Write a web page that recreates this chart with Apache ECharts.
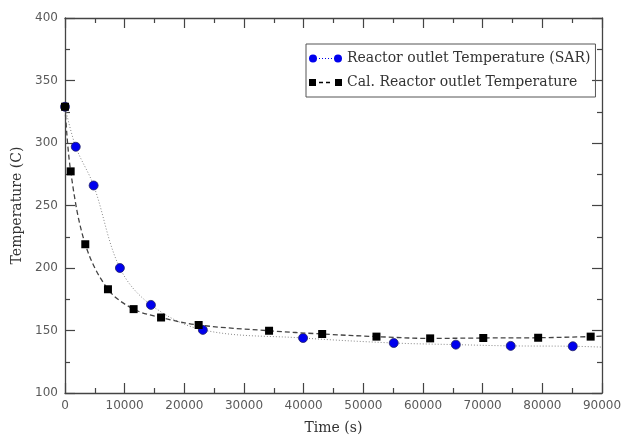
<!DOCTYPE html>
<html>
<head>
<meta charset="utf-8">
<script src="https://cdn.jsdelivr.net/npm/echarts@6/dist/echarts.min.js"></script>
<style>html,body{margin:0;padding:0;background:#fff}#c{width:637px;height:440px}</style>
</head>
<body>
<div id="c"></div>
<script>
// Reactor outlet Temperature (SAR)
var sarTime = [0, 1800, 4800, 9200, 14400, 23100, 39900, 55100, 65500, 74700, 85100];
var sarTemp = [329, 297, 266, 200, 170.5, 150.5, 144, 140, 138.7, 137.7, 137.4];
var sarTail = [90000, 136.7];
// Cal. Reactor outlet Temperature
var calTime = [0, 950, 3400, 7200, 11500, 16100, 22400, 34200, 43100, 52200, 61200, 70100, 79300, 88100];
var calTemp = [329, 277.3, 219, 183, 167.1, 160.4, 154.4, 149.8, 147.2, 145.1, 143.7, 144, 144.2, 145.1];
var calTail = [90000, 145.5];

var xTicks = {min: 0, max: 90000, interval: 10000};
var yTicks = {min: 100, max: 400, interval: 50};

function pairs(xs, ys, tail) {
  var out = xs.map(function (x, i) { return [x, ys[i]]; });
  out.push({value: tail, symbol: 'none'});
  return out;
}

var axisCol = '#444';
var sansFont = '"DejaVu Sans", sans-serif';
var serifFont = '"DejaVu Serif", serif';

function baseAxis(extra) {
  var a = {
    type: 'value',
    axisLine: {show: true, onZero: false, lineStyle: {color: axisCol, width: 1.3}},
    axisTick: {show: true, inside: true, length: 10, lineStyle: {color: axisCol, width: 1.2}},
    minorTick: {show: true, splitNumber: 2, length: 5, lineStyle: {color: axisCol, width: 1.2}},
    splitLine: {show: false},
    axisLabel: {show: false}
  };
  for (var k in extra) a[k] = extra[k];
  return a;
}

var labelStyle = {color: '#5a5a5a', fontFamily: sansFont, fontSize: 12, margin: 7,
  formatter: function (v) { return String(v); }};

var chart = echarts.init(document.getElementById('c'), null, {renderer: 'canvas'});

var circIcon = 'path://M0,4a4,4 0 1,0 8,0a4,4 0 1,0 -8,0z M10,3.5h1v1h-1z M13,3.5h1v1h-1z M16,3.5h1v1h-1z M19,3.5h1v1h-1z M22,3.5h1v1h-1z M25,4a4,4 0 1,0 8,0a4,4 0 1,0 -8,0z';
var sqIcon = 'path://M0,0.5h7v7h-7z M10,3.3h4v1.4h-4z M17,3.3h4v1.4h-4z M26,0.5h7v7h-7z';

chart.setOption({
  animation: false,
  backgroundColor: '#fff',
  grid: {left: 65, right: 35, top: 18, bottom: 44, containLabel: false},
  legend: {
    orient: 'vertical',
    left: 306, top: 44,
    padding: [6, 5, 6, 3],
    itemGap: 7,
    itemWidth: 33, itemHeight: 8,
    borderColor: '#555', borderWidth: 1,
    textStyle: {fontFamily: serifFont, fontSize: 14, color: '#333', lineHeight: 17},
    data: [
      {name: 'Reactor outlet Temperature (SAR)', icon: circIcon, itemStyle: {color: '#0000ee', borderWidth: 0}},
      {name: 'Cal. Reactor outlet Temperature', icon: sqIcon, itemStyle: {color: '#000', borderWidth: 0}}
    ]
  },
  xAxis: [
    baseAxis({
      position: 'bottom', min: xTicks.min, max: xTicks.max, interval: xTicks.interval,
      name: 'Time (s)', nameLocation: 'middle', nameGap: 28,
      nameTextStyle: {fontFamily: serifFont, fontSize: 14, color: '#333'},
      axisLabel: labelStyle
    }),
    baseAxis({position: 'top', min: xTicks.min, max: xTicks.max, interval: xTicks.interval})
  ],
  yAxis: [
    baseAxis({
      position: 'left', min: yTicks.min, max: yTicks.max, interval: yTicks.interval,
      name: 'Temperature (C)', nameLocation: 'middle', nameGap: 34,
      nameTextStyle: {fontFamily: serifFont, fontSize: 14, color: '#333'},
      axisLabel: labelStyle
    }),
    baseAxis({position: 'right', min: yTicks.min, max: yTicks.max, interval: yTicks.interval})
  ],
  series: [
    {
      name: 'Reactor outlet Temperature (SAR)',
      type: 'line',
      smooth: 0.35,
      data: pairs(sarTime, sarTemp, sarTail),
      symbol: 'circle', symbolSize: 9,
      itemStyle: {color: '#0000ee', borderColor: '#222266', borderWidth: 0.8},
      lineStyle: {color: '#888', width: 1, type: [1, 2]},
      z: 3
    },
    {
      name: 'Cal. Reactor outlet Temperature',
      type: 'line',
      smooth: 0.35,
      data: pairs(calTime, calTemp, calTail),
      symbol: 'rect', symbolSize: 8,
      itemStyle: {color: '#000', borderColor: '#000', borderWidth: 0},
      lineStyle: {color: '#444', width: 1.3, type: [5, 3]},
      z: 4
    }
  ]
});
</script>
</body>
</html>
